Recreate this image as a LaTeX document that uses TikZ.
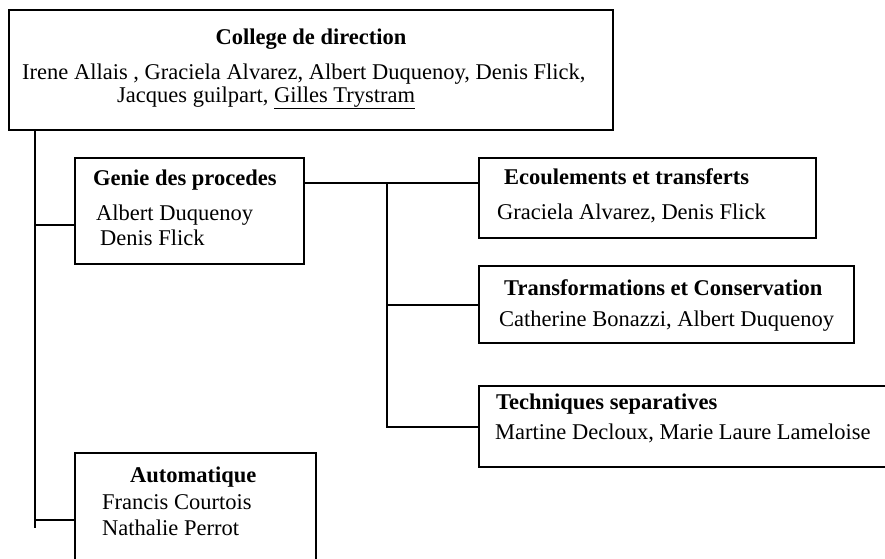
\documentclass[tikz,border=0pt]{standalone}
\usepackage{fontspec}
\setmainfont{Liberation Serif}
\usetikzlibrary{positioning}

\begin{document}
\begin{tikzpicture}[x=1pt,y=-1pt,
    box/.style={draw,line width=2pt,inner sep=0pt,outer sep=0pt,anchor=north west},
    txt/.style={anchor=base west,inner sep=0pt,font=\fontsize{22.5}{26}\selectfont},
    head/.style={txt,font=\fontsize{22.5}{26}\selectfont\bfseries},
    link/.style={line width=2pt}]
      \useasboundingbox (0,0) rectangle (885,558);

      % boxes
      \node[box,minimum width=604pt,minimum height=120pt] (college) at (9,10) {};
      \node[box,minimum width=229pt,minimum height=106pt] (genie) at (75,158) {};
      \node[box,minimum width=337pt,minimum height=80pt] (ecoul) at (479,158) {};
      \node[box,minimum width=375pt,minimum height=77pt] (transf) at (479,266) {};
      \node[box,minimum width=420pt,minimum height=81pt] (techn) at (479,386) {};
      \node[box,minimum width=241pt,minimum height=134pt] (autom) at (75,453) {};

      % texts
      \node[head,anchor=base] (collegeT) at (311,44) {College de direction};
      \node[txt] (collegeA) at (22,79) {Irene Allais , Graciela Alvarez, Albert Duquenoy, Denis Flick,};
      \node[txt] (collegeB) at (117,102) {Jacques guilpart, \underline{Gilles Trystram}};

      \node[head] (genieT) at (93,185) {Genie des procedes};
      \node[txt] (genieA) at (96,220) {Albert Duquenoy};
      \node[txt] (genieB) at (100,245) {Denis Flick};

      \node[head] (ecoulT) at (504,184) {Ecoulements et transferts};
      \node[txt] (ecoulA) at (497,219) {Graciela Alvarez, Denis Flick};

      \node[head] (transfT) at (504,295) {Transformations et Conservation};
      \node[txt] (transfA) at (499,326) {Catherine Bonazzi, Albert Duquenoy};

      \node[head] (technT) at (496,409) {Techniques separatives};
      \node[txt] (technA) at (495,439) {Martine Decloux, Marie Laure Lameloise};

      \node[head] (automT) at (130,482) {Automatique};
      \node[txt] (automA) at (102,509) {Francis Courtois};
      \node[txt] (automB) at (102,535) {Nathalie Perrot};

      % connectors
      \coordinate (spine) at (35,528);
      \coordinate[yshift=-14pt] (geniein) at (genie.west);
      \coordinate (fork) at (387,183);
      \draw[link] (college.south -| spine) -- (spine);
      \draw[link] (geniein -| spine) -- (geniein);
      \draw[link] (autom.west -| spine) -- (autom.west);
      \draw[link] (genie.east |- fork) -- (ecoul.west |- fork);
      \draw[link] (fork) |- (techn.west);
      \draw[link] (fork |- transf.west) -- (transf.west);
\end{tikzpicture}
\end{document}
